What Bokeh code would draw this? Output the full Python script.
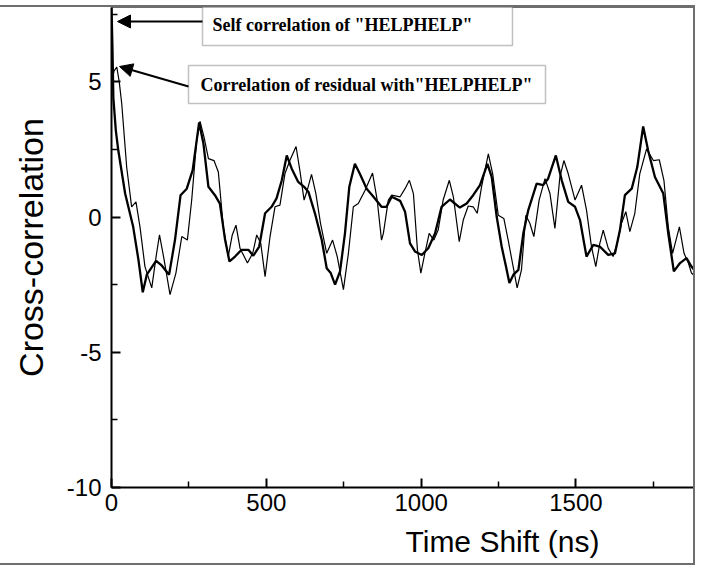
from bokeh.plotting import figure
from bokeh.models import Range1d, FixedTicker, Label, Arrow, NormalHead, BoxAnnotation, Title
from bokeh.embed import file_html
from bokeh.resources import INLINE

# ---- data ----
self_x = [0, 3, 6, 14, 22, 44, 70, 87, 101, 114, 144, 162, 186, 205, 223, 243, 262, 283, 297, 313,
          334, 350, 367, 381, 399, 420, 442, 458, 477, 496, 517, 533, 550, 566, 582, 603, 622, 636,
          657, 679, 695, 708, 722, 738, 754, 768, 786, 802, 824, 846, 872, 888, 905, 932, 948, 964,
          980, 1002, 1023, 1045, 1066, 1093, 1125, 1147, 1168, 1190, 1214, 1228, 1244, 1260, 1274,
          1285, 1298, 1314, 1330, 1346, 1373, 1394, 1410, 1435, 1454, 1475, 1497, 1513, 1534, 1556,
          1577, 1604, 1626, 1642, 1658, 1680, 1698, 1717, 1733, 1755, 1782, 1798, 1816, 1836, 1857,
          1873, 1886]
self_y = [7.75, 6.3, 4.4, 3.2, 2.46, 0.87, -0.36, -1.58, -2.78, -2.13, -1.62, -1.79, -2.13, -0.85,
          0.81, 1.05, 1.73, 3.5, 2.71, 1.12, 0.81, 0.5, -0.85, -1.64, -1.46, -1.21, -1.21, -1.43,
          -1.09, 0.14, 0.38, 0.69, 1.36, 2.28, 1.79, 1.3, 1.12, 0.93, 0.14, -0.85, -1.89, -2.07,
          -2.5, -2.01, -0.6, 1.12, 1.97, 1.6, 1.05, 0.75, 0.38, 0.38, 0.75, 0.6, 0.2, -0.97, -1.27,
          -1.4, -1.15, -0.6, 0.38, 0.65, 0.35, 0.5, 0.81, 1.18, 1.97, 1.48, 0.01, -1.09, -1.83,
          -2.44, -2.13, -1.95, -0.6, 0.26, 1.24, 1.18, 1.42, 2.28, 1.36, 0.56, 0.38, -0.11, -1.46,
          -1.03, -1.09, -1.4, -1.34, -0.48, 0.81, 1.05, 1.85, 3.35, 2.46, 1.48, 0.87, -0.6, -2.01,
          -1.7, -1.52, -1.83, -2.01]

resid_x = [0, 8, 17, 25, 33, 49, 65, 79, 92, 108, 130, 144, 155, 170, 189, 208, 227, 245, 259, 275,
           286, 299, 313, 331, 345, 361, 377, 390, 402, 415, 439, 456, 469, 482, 496, 512, 528, 544,
           560, 576, 596, 609, 622, 632, 646, 660, 675, 695, 714, 729, 749, 765, 781, 797, 819, 843,
           858, 872, 878, 894, 905, 932, 948, 962, 975, 988, 999, 1012, 1026, 1041, 1055, 1071, 1091,
           1104, 1123, 1136, 1152, 1168, 1181, 1195, 1217, 1231, 1249, 1267, 1281, 1298, 1310, 1324,
           1338, 1351, 1364, 1381, 1400, 1416, 1432, 1448, 1461, 1475, 1497, 1518, 1534, 1550, 1564,
           1577, 1588, 1604, 1620, 1633, 1647, 1661, 1674, 1690, 1706, 1728, 1750, 1769, 1784, 1798,
           1812, 1834, 1849, 1863, 1873, 1886]
resid_y = [4.9, 5.4, 5.55, 5.0, 4.2, 1.85, 0.38, 0.56, -0.36, -1.83, -2.62, -1.46, -0.66, -1.58,
           -2.87, -2.07, -0.72, -0.85, 0.63, 2.83, 3.54, 2.95, 2.16, 2.09, 1.67, -0.36, -1.46, -0.66,
           -0.3, -1.15, -1.7, -1.34, -0.66, -0.97, -2.2, -0.72, 0.38, 0.44, 1.6, 2.09, 2.61, 1.67,
           0.63, 0.99, 1.58, 0.87, -0.23, -1.34, -0.85, -1.46, -2.68, -1.34, 0.38, 0.5, 0.99, 1.63,
           0.63, -0.85, -0.6, 0.63, 0.81, 0.75, 1.05, 1.36, 0.87, -1.21, -2.07, -1.34, -0.6, -0.85,
           -0.48, 0.63, 1.36, 0.75, -0.91, -0.11, 0.41, 0.38, 0.14, 1.12, 2.34, 1.6, 0.07, -0.05,
           -0.85, -1.89, -2.62, -1.95, 0.07, -0.23, -0.72, 0.63, 1.42, 0.87, -0.42, 1.48, 2.09, 1.6,
           0.63, 1.18, 0.26, -1.09, -1.83, -0.97, -0.48, -1.15, -1.46, -0.97, -0.23, 0.2, -0.54,
           0.14, 1.6, 2.52, 2.09, 2.12, 1.36, -0.36, -1.34, -0.36, -1.34, -1.7, -2.07, -2.2]

x_ticks = [0, 500, 1000, 1500]
x_tick_labels = ["0", "500", "1000", "1500"]
x_minor = [250, 750, 1250, 1750]
y_ticks = [-10, -5, 0, 5]
y_tick_labels = ["-10", "-5", "0", "5"]
y_minor = [-7.5, -2.5, 2.5, 7.5]

x_title = "Time Shift (ns)"
y_title = "Cross-correlation"
note_self = 'Self correlation of "HELPHELP"'
note_resid = 'Correlation of residual with"HELPHELP"'

BORDER = "2px solid #6e6e6e"

# ---- figure ----
p = figure(width=695, height=560, output_backend="svg", toolbar_location=None,
           x_range=Range1d(0, 1886), y_range=Range1d(-10, 7.75),
           min_border_left=111, min_border_right=0, min_border_top=0, min_border_bottom=79)
p.styles = {"margin-top": "5px", "border-top": BORDER, "border-right": BORDER,
            "border-bottom": BORDER}
p.outline_line_color = "#6e6e6e"
p.outline_line_width = 1
p.xgrid.visible = False
p.ygrid.visible = False
p.background_fill_color = "white"
p.border_fill_color = "white"

for ax in (p.xaxis[0], p.yaxis[0]):
    ax.axis_line_color = "black"
    ax.axis_line_width = 2
    ax.major_tick_in = 9
    ax.major_tick_out = 0
    ax.minor_tick_in = 6
    ax.minor_tick_out = 0
    ax.major_tick_line_color = "black"
    ax.major_tick_line_width = 2
    ax.minor_tick_line_color = "black"
    ax.minor_tick_line_width = 1.5
    ax.major_label_text_font = "Liberation Sans"
    ax.major_label_text_font_size = "24px"
    ax.major_label_text_color = "black"

p.xaxis.ticker = FixedTicker(ticks=x_ticks, minor_ticks=x_minor)
p.xaxis.major_label_overrides = dict(zip(x_ticks, x_tick_labels))
p.xaxis.major_label_standoff = 6

p.yaxis.ticker = FixedTicker(ticks=y_ticks, minor_ticks=y_minor)
p.yaxis.major_label_overrides = dict(zip(y_ticks, y_tick_labels))
p.yaxis.major_label_standoff = 10
p.yaxis.axis_label = y_title
p.yaxis.axis_label_text_font = "Liberation Sans"
p.yaxis.axis_label_text_font_size = "34px"
p.yaxis.axis_label_text_font_style = "normal"
p.yaxis.axis_label_text_color = "black"
p.yaxis.axis_label_standoff = 14

# x-axis title, placed right of centre as in the reference
p.add_layout(Title(text=x_title, align="left", offset=294, text_font="Liberation Sans",
                   text_font_size="30px", text_font_style="normal", text_color="black",
                   standoff=19), "below")

# ---- curves ----
p.line(resid_x, resid_y, line_color="black", line_width=1.2)
p.line(self_x, self_y, line_color="black", line_width=2.3)

# ---- annotations (screen units relative to plot frame) ----
p.add_layout(BoxAnnotation(left=91, right=401, bottom=442, top=481,
                           left_units="screen", right_units="screen",
                           bottom_units="screen", top_units="screen",
                           fill_color="white", fill_alpha=1.0,
                           line_color="#333333", line_width=1.5))
p.add_layout(BoxAnnotation(left=77, right=434, bottom=384, top=422,
                           left_units="screen", right_units="screen",
                           bottom_units="screen", top_units="screen",
                           fill_color="white", fill_alpha=1.0,
                           line_color="#333333", line_width=1.5))
p.add_layout(Label(x=231, y=463, x_units="screen", y_units="screen", text=note_self,
                   text_align="center", text_baseline="middle", text_font="Liberation Serif",
                   text_font_size="18px", text_font_style="bold", text_color="black",
                   level="overlay"))
p.add_layout(Label(x=255, y=403, x_units="screen", y_units="screen", text=note_resid,
                   text_align="center", text_baseline="middle", text_font="Liberation Serif",
                   text_font_size="18px", text_font_style="bold", text_color="black",
                   level="overlay"))
p.add_layout(Arrow(end=NormalHead(size=13, fill_color="black", line_color="black"),
                   x_start=91, y_start=466, x_end=6, y_end=466,
                   start_units="screen", end_units="screen",
                   line_color="black", line_width=2))
p.add_layout(Arrow(end=NormalHead(size=13, fill_color="black", line_color="black"),
                   x_start=77, y_start=401, x_end=8, y_end=421,
                   start_units="screen", end_units="screen",
                   line_color="black", line_width=2))

open("out.html", "w").write(file_html(p, INLINE))
